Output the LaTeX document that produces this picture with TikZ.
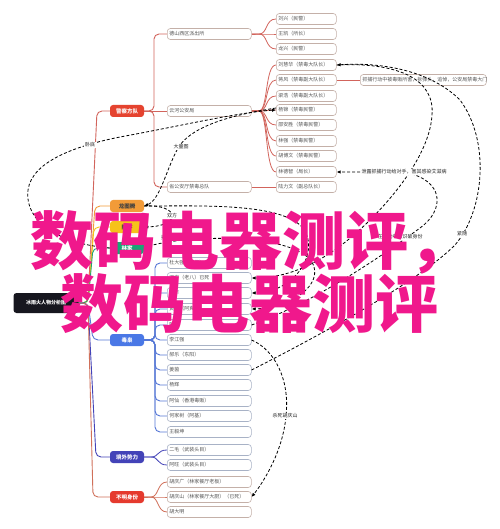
\documentclass[tikz,border=0pt]{standalone}
\usepackage{fontspec}
\setmainfont{Noto Sans CJK SC}
\usetikzlibrary{arrows.meta,backgrounds}
\definecolor{polred}{HTML}{E5432F}
\definecolor{polline}{HTML}{D2645C}
\definecolor{orng}{HTML}{F29B38}
\definecolor{yell}{HTML}{F6C21A}
\definecolor{grn}{HTML}{1AA575}
\definecolor{blu}{HTML}{4A78E6}
\definecolor{bluline}{HTML}{5577D6}
\definecolor{purp}{HTML}{4343B8}
\definecolor{botred}{HTML}{E53A2E}
\definecolor{botline}{HTML}{D0705A}
\definecolor{rootc}{HTML}{17171F}
\definecolor{bdrw}{HTML}{C4B0A8}
\definecolor{bdrb}{HTML}{A8B2C6}
\definecolor{txt}{HTML}{555555}
\definecolor{wmark}{HTML}{F0188C}
\tikzset{
  rootbox/.style={fill=rootc, rounded corners=3pt, minimum width=65pt, minimum height=20pt, inner sep=0pt, text=white, font=\bfseries\fontsize{5}{6}\selectfont},
  catbox/.style={fill=#1, rounded corners=3pt, minimum width=34pt, minimum height=12pt, inner sep=0pt, text=white, font=\bfseries\fontsize{5.5}{6}\selectfont},
  leafa/.style={draw=#1, line width=0.6pt, fill=white, rounded corners=3pt, anchor=west, text width=80pt, minimum height=11pt, inner xsep=2pt, inner ysep=0pt, align=left, text=txt, font=\fontsize{5}{6}\selectfont},
  leafb/.style={leafa=#1, text width=56pt},
  leafc/.style={leafa=#1, text width=122pt},
  connline/.style={draw=#1, line width=0.9pt, rounded corners=5pt},
  brace/.style={draw=#1, line width=0.8pt},
  rel/.style={draw=black, line width=0.8pt, dash pattern=on 3pt off 2pt},
  arr/.style={-{Latex[length=4pt,width=3.5pt]}},
  lbl/.style={fill=white, inner sep=0.8pt, text=black!85, font=\fontsize{5}{6}\selectfont},
  wm/.style={anchor=base west, inner sep=0pt, text=wmark, font=\bfseries\fontsize{63}{63}\selectfont},
}
\begin{document}
\begin{tikzpicture}[x=1pt,y=-1pt]
\useasboundingbox (0,0) rectangle (499,529);
% root and categories
\node[rootbox] (rootn) at (46,303) {冰雨火人物分析图};
\node[catbox=polred] (c1) at (127,111) {警察方队};
\node[catbox=orng, text=black!75] (c2) at (127,206) {龙图腾};
\node[catbox=yell, text=black!75] (c3) at (127,227) {陈宇};
\node[catbox=grn] (c4) at (127,248) {林家};
\node[catbox=blu] (c5) at (127,340) {毒枭};
\node[catbox=purp] (c6) at (127,457) {境外势力};
\node[catbox=botred] (c7) at (127,497) {不明身份};
% police level 1
\node[leafa=bdrw] (p1) at (167,34) {德山西区派出所};
\node[leafa=bdrw] (p2) at (167,111) {云河公安局};
\node[leafa=bdrw] (p3) at (167,187) {省公安厅禁毒总队};
% police level 2
\node[leafb=bdrw] (a1) at (276,19) {刘兴（民警）};
\node[leafb=bdrw] (a2) at (276,34) {王凯（所长）};
\node[leafb=bdrw] (a3) at (276,49) {龙兴（民警）};
\node[leafb=bdrw] (b1) at (276,65) {刘慧华（禁毒大队长）};
\node[leafb=bdrw] (b2) at (276,80) {蒋风（禁毒副大队长）};
\node[leafb=bdrw] (b3) at (276,96) {梁浩（禁毒副大队长）};
\node[leafb=bdrw] (b4) at (276,110) {杨锦（禁毒民警）};
\node[leafb=bdrw] (b5) at (276,125) {邵安胜（禁毒民警）};
\node[leafb=bdrw] (b6) at (276,141) {林强（禁毒民警）};
\node[leafb=bdrw] (b7) at (276,156) {胡博文（禁毒民警）};
\node[leafb=bdrw] (b8) at (276,172) {林德智（局长）};
\node[leafb=bdrw] (d1) at (276,187) {陆力文（副总队长）};
\node[leafc=bdrw] (e1) at (360,80) {抓捕行动中被毒贩所害，拆弹头，追悼，公安局禁毒大门};
% drug lords
\node[leafa=bdrb] (n1) at (167,263) {杜大强（大佬）};
\node[leafa=bdrb] (n2) at (167,278) {丁宁（老八）已死};
\node[leafa=bdrb] (n3) at (167,293) {阿丰};
\node[leafa=bdrb] (n4) at (167,309) {黄钢（阿爽）};
\node[leafa=bdrb] (n5) at (167,325) {阿坤};
\node[leafa=bdrb] (n6) at (167,340) {李江强};
\node[leafa=bdrb] (n7) at (167,355) {郝乐（东阳）};
\node[leafa=bdrb] (n8) at (167,370) {姜茵};
\node[leafa=bdrb] (n9) at (167,385) {杨辉};
\node[leafa=bdrb] (n10) at (167,401) {阿仙（香港毒贩）};
\node[leafa=bdrb] (n11) at (167,416) {何家树（阿基）};
\node[leafa=bdrb] (n12) at (167,432) {王毅坤};
% foreign
\node[leafa=bdrb] (g1) at (167,450) {二毛（武装头目）};
\node[leafa=bdrb] (g2) at (167,465) {阿旺（武装头目）};
% unknown
\node[leafa=bdrw] (h1) at (167,482) {胡庆广（林家餐厅老板）};
\node[leafa=bdrw] (h2) at (167,497) {胡庆山（林家餐厅大厨）（已死）};
\node[leafa=bdrw] (h3) at (167,512) {胡大明};

\begin{scope}[on background layer]
\fill[white] (0,0) rectangle (499,529);
% root to categories
\draw[connline=polline] (rootn.east) -- (88,303) -- (97,111) -- (c1.west);
\draw[connline=orng] (rootn.east) -- (88,303) -- (95,206) -- (c2.west);
\draw[connline=yell] (rootn.east) -- (88,303) -- (94,227) -- (c3.west);
\draw[connline=grn] (rootn.east) -- (88,303) -- (93,248) -- (c4.west);
\draw[connline=bluline] (rootn.east) -- (88,303) -- (93,340) -- (c5.west);
\draw[connline=purp] (rootn.east) -- (88,303) -- (96,457) -- (c6.west);
\draw[connline=botline] (rootn.east) -- (88,303) -- (93,497) -- (c7.west);
% police
\draw[connline=polline] (c1.east) -- (154,111) -- (154,34) -- (p1.west);
\draw[connline=polline] (c1.east) -- (p2.west);
\draw[connline=polline] (c1.east) -- (154,111) -- (154,187) -- (p3.west);
\foreach \t in {a1,a2,a3}{
  \draw[brace=polline] (p1.east) -- (259,34) .. controls (268,34) and (265,34 |- \t.west) .. (\t.west);
}
\foreach \t in {b1,b2,b3,b4,b5,b6,b7,b8}{
  \draw[brace=polline] (p2.east) -- (259,111) .. controls (268,111) and (265,111 |- \t.west) .. (\t.west);
}
\draw[brace=polline] (p3.east) -- (d1.west);
\draw[brace=polline] (b2.east) -- (e1.west);
% drug lords
\foreach \t in {n1,n2,n3,n4,n5,n6,n7,n8,n9,n10,n11,n12}{
  \draw[connline=bluline] (c5.east) -- (155,340) -- (155,340 |- \t.west) -- (\t.west);
}
\foreach \t in {g1,g2}{
  \draw[brace=purp] (c6.east) -- (151,457) .. controls (159,457) and (157,457 |- \t.west) .. (\t.west);
}
\foreach \t in {h1,h2,h3}{
  \draw[brace=botline] (c7.east) -- (151,497) .. controls (159,497) and (157,497 |- \t.west) .. (\t.west);
}
\end{scope}

% relationships
\draw[rel,arr] (c4.west) .. controls (60,244) and (24,222) .. (28,190) .. controls (32,160) and (80,145) .. (120,137) .. controls (180,126) and (240,112) .. (b4.west);
\node[lbl] (l1) at (90,145) {卧底};
\draw[rel,arr] ([yshift=2pt]b4.west) .. controls (225,116) and (190,128) .. (178,148) .. controls (166,170) and (160,200) .. (c2.east);
\node[lbl] (l2) at (181,147) {大量图};
\draw[rel,arr] (c2.east) .. controls (180,204) and (182,226) .. (c3.east);
\node[lbl] (l3) at (172,216) {双方};
\draw[rel,arr] (c2.east) .. controls (200,206) and (275,203) .. (300,225) .. controls (322,245) and (300,292) .. (n3.east);
\draw[rel,arr] (c4.east) .. controls (170,236) and (290,230) .. (312,262) .. controls (325,285) and (290,308) .. (n4.east);
\node[lbl] (l4) at (166,238) {揭发};
\draw[rel,arr] (n8.east) .. controls (330,330) and (420,280) .. (455,245) .. controls (485,210) and (490,140) .. (460,100) .. controls (430,70) and (380,62) .. (b1.east);
\node[lbl] (l5) at (462,234) {紧随};
\draw[rel,arr] (b1.east) .. controls (400,62) and (435,80) .. (432,115) .. controls (430,150) and (400,190) .. (370,220) .. controls (340,250) and (300,278) .. (n2.east);
\draw[rel,arr] (n5.east) .. controls (320,300) and (390,250) .. (420,228) .. controls (445,210) and (445,180) .. (404,172) -- (b8.east);
\node[lbl] (l6) at (404,172) {泄露抓捕行动给对手，害其感染艾滋病};
\node[lbl] (l7) at (400,237) {在行动中被识破身份};
\draw[rel,arr] (n6.east) .. controls (275,350) and (290,380) .. (286,416) .. controls (283,450) and (265,480) .. (h2.east);
\node[lbl] (l8) at (285,416) {杀死胡庆山};

% watermark
\node[wm] (w1) at (30,264) {数码电器测评，};
\node[wm] (w2) at (60,327) {数码电器测评};
\end{tikzpicture}
\end{document}
